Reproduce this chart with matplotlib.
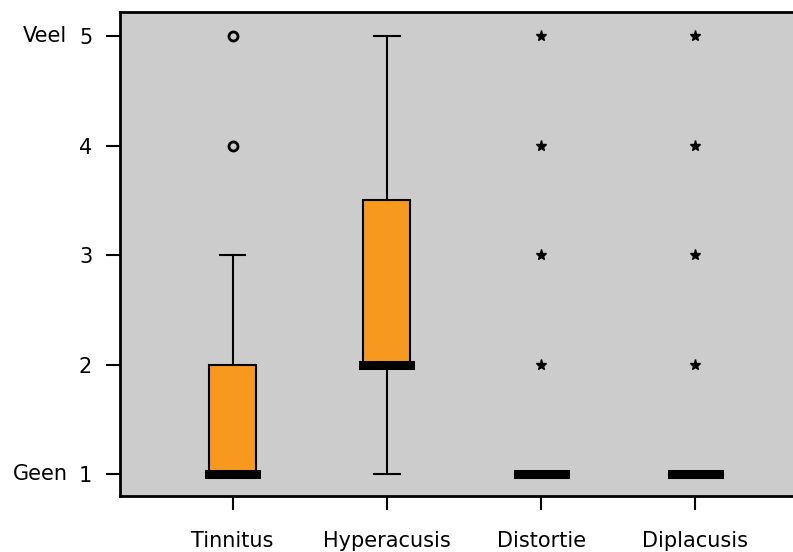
import matplotlib
matplotlib.use("Agg")
import matplotlib.pyplot as plt
import matplotlib.transforms as mtransforms

categories = ["Tinnitus", "Hyperacusis", "Distortie", "Diplacusis"]
whislo = [1, 1, 1, 1]
q1 = [1, 2, 1, 1]
med = [1, 2, 1, 1]
q3 = [2, 3.5, 1, 1]
whishi = [3, 5, 1, 1]
# outliers (circle) and extremes (star)
outliers = [[4, 5], [], [], []]
extremes = [[], [], [2, 3, 4, 5], [2, 3, 4, 5]]
yticks = [1, 2, 3, 4, 5]
ylabels_side = {5: "Veel", 1: "Geen"}

fig = plt.figure(figsize=(7.93, 5.52), dpi=100)
ax = fig.add_axes([0.1513, 0.1014, 0.85, 0.8768])
ax.set_facecolor("#cccccc")

positions = list(range(1, len(categories) + 1))
stats = []
for i, name in enumerate(categories):
    stats.append(dict(label=name, whislo=whislo[i], q1=q1[i], med=med[i],
                      q3=q3[i], whishi=whishi[i], fliers=[]))

ax.bxp(stats, positions=positions, widths=0.305, capwidths=0.165,
       patch_artist=True, showfliers=False,
       boxprops=dict(facecolor="#f7991f", edgecolor="black", linewidth=1.5),
       whiskerprops=dict(color="black", linewidth=1.5),
       capprops=dict(color="black", linewidth=1.5),
       medianprops=dict(color="black", linewidth=6.5, solid_capstyle="projecting"))

for p, vals in zip(positions, outliers):
    if vals:
        ax.plot([p] * len(vals), vals, linestyle="none", marker="o", ms=6.5,
                mfc="none", mec="black", mew=2)
for p, vals in zip(positions, extremes):
    if vals:
        ax.plot([p] * len(vals), vals, linestyle="none", marker="*", ms=8,
                color="black")

ax.set_xlim(0.27, 4.64)
ax.set_ylim(0.8, 5.22)
ax.set_xticks(positions)
ax.set_xticklabels(categories, fontsize=15)
ax.set_yticks(yticks)
ax.set_yticklabels([str(v) for v in yticks], fontsize=15)
ax.tick_params(axis="both", length=10, width=1.5, color="black")
ax.tick_params(axis="y", pad=10)
ax.tick_params(axis="x", pad=15)
for s in ax.spines.values():
    s.set_linewidth(2)

trans = mtransforms.blended_transform_factory(fig.transFigure, ax.transData)
for v, txt in ylabels_side.items():
    ax.text(0.085, v, txt, transform=trans, ha="right", va="center", fontsize=15)

fig.savefig("out.png", dpi=100)
